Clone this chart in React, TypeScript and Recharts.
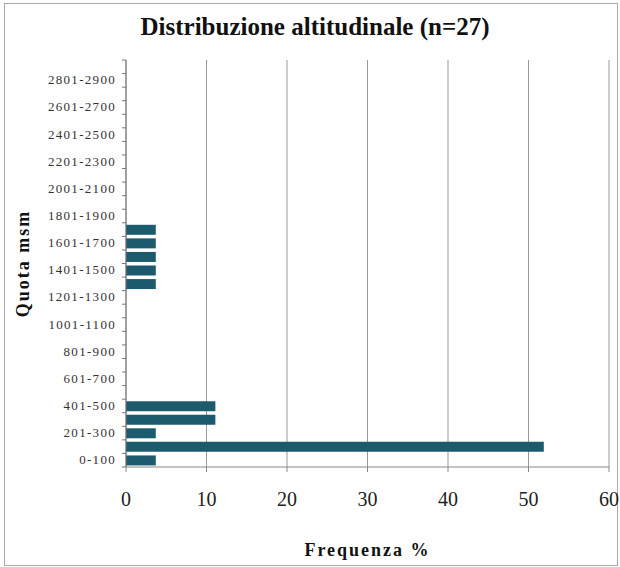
import { Bar, BarChart, CartesianGrid, XAxis, YAxis } from "recharts";

const categories = [
  "0-100", "101-200", "201-300", "301-400", "401-500", "501-600", "601-700", "701-800",
  "801-900", "901-1000", "1001-1100", "1101-1200", "1201-1300", "1301-1400", "1401-1500",
  "1501-1600", "1601-1700", "1701-1800", "1801-1900", "1901-2000", "2001-2100", "2101-2200",
  "2201-2300", "2301-2400", "2401-2500", "2501-2600", "2601-2700", "2701-2800", "2801-2900",
  "2901-3000"
];

const frequenza = [
  3.7, 51.9, 3.7, 11.1, 11.1, 0, 0, 0, 0, 0, 0, 0, 0, 3.7, 3.7,
  3.7, 3.7, 3.7, 0, 0, 0, 0, 0, 0, 0, 0, 0, 0, 0, 0
];

const xTicks = [0, 10, 20, 30, 40, 50, 60];

const data = categories.map((quota, i) => ({ quota, frequenza: frequenza[i] }));

const serif = "'Liberation Serif', 'Times New Roman', serif";

function QuotaTick(props: any) {
  const { x, y, payload, index } = props;
  const half = payload?.offset ?? 6.8;
  return (
    <g>
      {index % 2 === 0 && (
        <text
          x={x - 2}
          y={y}
          dy={4}
          textAnchor="end"
          fontFamily={serif}
          fontSize={13}
          letterSpacing={1.3}
          fill="#333"
        >
          {payload.value}
        </text>
      )}
      <line x1={x + 4} x2={x + 8} y1={y + half} y2={y + half} stroke="#777" />
      {index === categories.length - 1 && (
        <line x1={x + 4} x2={x + 8} y1={y - half} y2={y - half} stroke="#777" />
      )}
    </g>
  );
}

export default function App() {
  return (
    <div style={{ position: "absolute", left: 0, top: 0, width: 620, height: 567, background: "#fff" }}>
      <div
        style={{
          position: "absolute",
          left: 4,
          top: 3,
          width: 612,
          height: 561,
          border: "1px solid #aaa"
        }}
      />
      <div
        style={{
          position: "absolute",
          left: 0,
          top: 13,
          width: 630,
          textAlign: "center",
          fontFamily: serif,
          fontWeight: "bold",
          fontSize: 25,
          color: "#111"
        }}
      >
        Distribuzione altitudinale (n=27)
      </div>
      <div style={{ position: "absolute", left: 0, top: 0 }}>
        <BarChart
          width={620}
          height={567}
          data={data}
          layout="vertical"
          margin={{ top: 60, right: 11, bottom: 0, left: 0 }}
          barSize={10}
        >
          <CartesianGrid horizontal={false} stroke="#999" />
          <XAxis
            type="number"
            domain={[0, 60]}
            ticks={xTicks}
            interval={0}
            height={100}
            tickSize={5}
            tickMargin={20}
            stroke="#888"
            tick={{ fill: "#222", fontSize: 20, fontFamily: serif }}
            label={{
              value: "Frequenza %",
              position: "insideBottom",
              offset: 11,
              fill: "#111",
              fontSize: 18,
              fontWeight: "bold",
              fontFamily: serif,
              letterSpacing: 2
            }}
          />
          <XAxis
            xAxisId="top"
            orientation="top"
            type="number"
            domain={[0, 60]}
            height={0}
            tick={false}
            tickLine={false}
            stroke="#ccc"
          />
          <YAxis
            type="category"
            dataKey="quota"
            reversed
            interval={0}
            width={126}
            tickLine={false}
            tickSize={4}
            tickMargin={4}
            stroke="#777"
            tick={<QuotaTick />}
            label={{
              value: "Quota msm",
              angle: -90,
              position: "center",
              dx: -40,
              fill: "#111",
              fontSize: 18,
              fontWeight: "bold",
              fontFamily: serif,
              letterSpacing: 2
            }}
          />
          <YAxis
            yAxisId="right"
            orientation="right"
            type="category"
            dataKey="quota"
            width={0}
            tick={false}
            tickLine={false}
            stroke="#ccc"
            strokeDasharray="2 2"
          />
          <Bar dataKey="frequenza" fill="#1c5a6e" isAnimationActive={false} />
        </BarChart>
      </div>
    </div>
  );
}
